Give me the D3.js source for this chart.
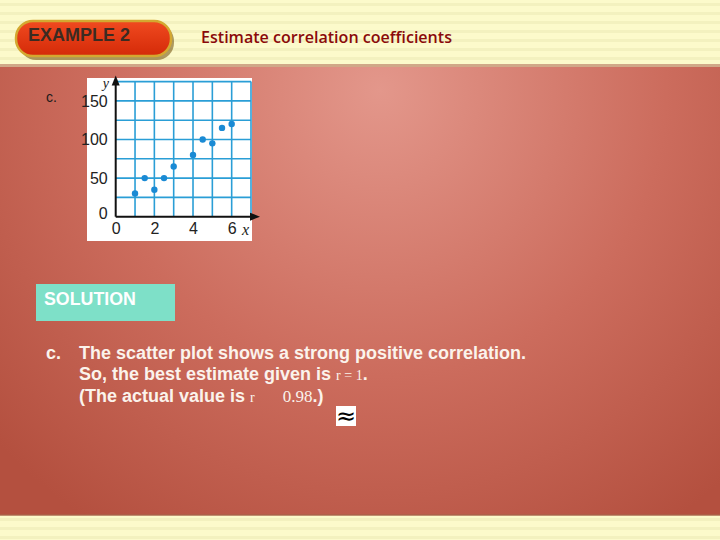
<!DOCTYPE html>
<html><head><meta charset="utf-8">
<script src="https://cdn.jsdelivr.net/npm/d3@7"></script>
<style>body{margin:0;padding:0;overflow:hidden}svg{display:block}</style>
</head><body>
<script>
const xValues = [1, 1.5, 2, 2.5, 3, 4, 4.5, 5, 5.5, 6];
const yValues = [30, 50, 35, 50, 65, 80, 100, 95, 115, 120];
const xTicks = [0, 2, 4, 6];
const yTicks = [0, 50, 100, 150];
const title = "Estimate correlation coefficients";
const exampleLabel = "EXAMPLE 2";

const W = 720, H = 540;
const svg = d3.select("body").append("svg").attr("width", W).attr("height", H);
const defs = svg.append("defs");

const rg = defs.append("radialGradient").attr("id","bg").attr("gradientUnits","userSpaceOnUse")
  .attr("cx",380).attr("cy",90).attr("r",520);
rg.append("stop").attr("offset","0").attr("stop-color","#e3978b");
rg.append("stop").attr("offset","0.55").attr("stop-color","#cc6c5d");
rg.append("stop").attr("offset","1").attr("stop-color","#b4503f");
svg.append("rect").attr("width",W).attr("height",H).attr("fill","url(#bg)");

function band(y0, h) {
  svg.append("rect").attr("x",0).attr("y",y0).attr("width",W).attr("height",h).attr("fill","#fcfacb");
  for (let y = y0 + 3; y < y0 + h; y += 9) {
    svg.append("rect").attr("x",0).attr("y",y).attr("width",W).attr("height",3).attr("fill","#ecebb8").attr("opacity",0.6);
  }
}
band(0, 66);
svg.append("rect").attr("x",0).attr("y",64).attr("width",W).attr("height",3).attr("fill","#d0a888");
band(515, 25);
svg.append("rect").attr("x",0).attr("y",514).attr("width",W).attr("height",2).attr("fill","#a8624a").attr("opacity",0.7);

const pg = defs.append("linearGradient").attr("id","pill").attr("x1",0).attr("x2",0).attr("y1",0).attr("y2",1);
pg.append("stop").attr("offset","0").attr("stop-color","#f04a20");
pg.append("stop").attr("offset","1").attr("stop-color","#d42a08");
svg.append("rect").attr("x",19).attr("y",24).attr("width",155).attr("height",36).attr("rx",17)
  .attr("fill","#7a5a18").attr("opacity",0.6);
svg.append("rect").attr("x",16).attr("y",21).attr("width",155).attr("height",35).attr("rx",17)
  .attr("fill","url(#pill)").attr("stroke","#d4a830").attr("stroke-width",2.5);
svg.append("text").attr("x",28).attr("y",41).text(exampleLabel)
  .attr("font-family","Liberation Sans Narrow, Arial Narrow, Liberation Sans, sans-serif")
  .attr("font-weight","bold").attr("font-size",17.5).attr("fill","#3b2b22")
  .attr("textLength",102).attr("lengthAdjust","spacingAndGlyphs");
svg.append("text").attr("x",201).attr("y",43).text(title)
  .attr("font-family","Open Sans, sans-serif").attr("font-weight","600")
  .attr("font-size",16).attr("fill","#8a0a0a")
  .attr("textLength",251).attr("lengthAdjust","spacingAndGlyphs");

svg.append("text").attr("x",46).attr("y",102).text("c.")
  .attr("font-family","Liberation Sans, Arial, sans-serif").attr("font-size",14).attr("fill","#1a1a1a");

svg.append("rect").attr("x",87).attr("y",78).attr("width",165).attr("height",163).attr("fill","#ffffff");

const x = d3.scaleLinear().domain([0, 7]).range([115.7, 251]);
const y = d3.scaleLinear().domain([0, 175]).range([216.7, 81.6]);

const grid = svg.append("g");
grid.selectAll("line.v").data(d3.range(1, 8)).join("line")
  .attr("x1", d => x(d)).attr("x2", d => x(d)).attr("y1", y(175)).attr("y2", y(0))
  .attr("stroke","#2a9ed6").attr("stroke-width", 1.6);
grid.selectAll("line.h").data(d3.range(25, 176, 25)).join("line")
  .attr("x1", x(0)).attr("x2", x(7)).attr("y1", d => y(d)).attr("y2", d => y(d))
  .attr("stroke","#2a9ed6").attr("stroke-width", 1.6);

svg.append("line").attr("x1",x(0)).attr("x2",x(7)+2).attr("y1",y(0)).attr("y2",y(0)).attr("stroke","#111").attr("stroke-width",2);
svg.append("line").attr("x1",x(0)).attr("x2",x(0)).attr("y1",y(0)).attr("y2",y(175)+2).attr("stroke","#111").attr("stroke-width",2);
svg.append("path").attr("d",`M${x(7)+9},${y(0)} L${x(7)-1},${y(0)-4} L${x(7)-1},${y(0)+4} Z`).attr("fill","#111");
svg.append("path").attr("d",`M${x(0)},${y(175)-6} L${x(0)-4},${y(175)+4} L${x(0)+4},${y(175)+4} Z`).attr("fill","#111");

const tickFont = "Liberation Sans Narrow, Liberation Sans, sans-serif";
const xAxis = d3.axisBottom(x).tickValues(xTicks).tickFormat(d3.format("d")).tickSize(0).tickPadding(6);
const gx = svg.append("g").attr("transform",`translate(0,${y(0)})`).call(xAxis);
gx.select(".domain").remove();
gx.selectAll("text").attr("font-family",tickFont).attr("font-size",16).attr("fill","#222");

const yAxis = d3.axisLeft(y).tickValues(yTicks).tickFormat(d3.format("d")).tickSize(0).tickPadding(8);
const gy = svg.append("g").attr("transform",`translate(${x(0)},0)`).call(yAxis);
gy.select(".domain").remove();
gy.selectAll("text").attr("font-family",tickFont).attr("font-size",16).attr("fill","#222")
  .attr("dy", d => d === 0 ? "0.1em" : "0.32em");

svg.append("text").attr("x",x(0)-13).attr("y",y(175)+6).text("y")
  .attr("font-family","Liberation Serif, serif").attr("font-style","italic").attr("font-size",14).attr("fill","#222");
svg.append("text").attr("x",x(7)-9).attr("y",y(0)+18).text("x")
  .attr("font-family","Liberation Serif, serif").attr("font-style","italic").attr("font-size",16).attr("fill","#222");

svg.append("g").selectAll("circle").data(xValues.map((d,i)=>[d,yValues[i]])).join("circle")
  .attr("cx", d => x(d[0])).attr("cy", d => y(d[1])).attr("r", 3.2).attr("fill","#1a8ad4");

svg.append("rect").attr("x",36).attr("y",284).attr("width",139).attr("height",37).attr("fill","#7ee0c8");
svg.append("text").attr("x",44).attr("y",305).text("SOLUTION")
  .attr("font-family","Liberation Sans, Arial, sans-serif").attr("font-weight","bold").attr("font-size",17.8).attr("fill","#ffffff");

const bodyFont = "Liberation Sans, Arial, sans-serif";
const tc = "#fbf3ec";
const fs = 18;
svg.append("text").attr("x",46).attr("y",359).text("c.")
  .attr("font-family",bodyFont).attr("font-weight","bold").attr("font-size",fs).attr("fill",tc);
svg.append("text").attr("x",79).attr("y",359).text("The scatter plot shows a strong positive correlation.")
  .attr("font-family",bodyFont).attr("font-weight","bold").attr("font-size",fs).attr("fill",tc);
const l2 = svg.append("text").attr("x",79).attr("y",380).attr("font-family",bodyFont).attr("font-weight","bold").attr("font-size",fs).attr("fill",tc);
l2.append("tspan").text("So, the best estimate given is ");
l2.append("tspan").attr("font-family","Liberation Serif, serif").attr("font-weight","normal").attr("font-size",14).text("r = 1");
l2.append("tspan").text(".");
const l3 = svg.append("text").attr("x",79).attr("y",402).attr("font-family",bodyFont).attr("font-weight","bold").attr("font-size",fs).attr("fill",tc);
l3.append("tspan").text("(The actual value is ");
l3.append("tspan").attr("font-family","Liberation Serif, serif").attr("font-weight","normal").attr("font-size",14).text("r");
l3.append("tspan").attr("dx",28).attr("font-family","Liberation Serif, serif").attr("font-weight","normal").attr("font-size",17).text("0.98");
l3.append("tspan").text(".)");

svg.append("rect").attr("x",336).attr("y",406).attr("width",20).attr("height",20).attr("fill","#ffffff");
svg.append("text").attr("x",346).attr("y",424).attr("text-anchor","middle").text("≈")
  .attr("font-family","DejaVu Sans, sans-serif").attr("font-size",24).attr("fill","#000");
</script>
</body></html>
